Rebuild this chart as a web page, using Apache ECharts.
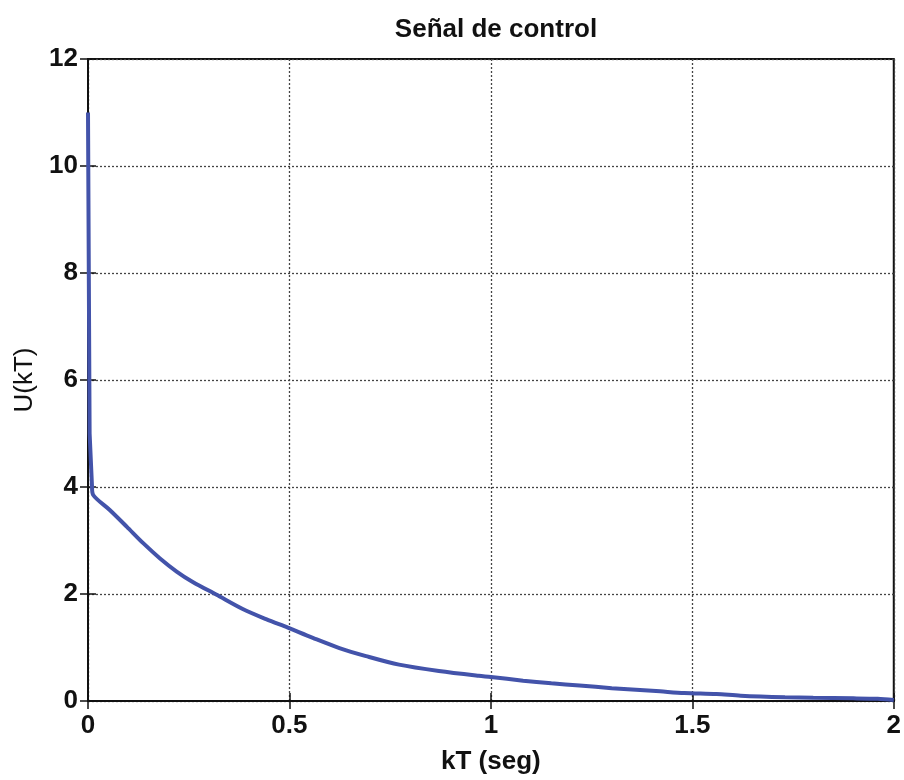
<!DOCTYPE html>
<html>
<head>
<meta charset="utf-8">
<script src="https://cdn.jsdelivr.net/npm/echarts@6/dist/echarts.min.js"></script>
<style>html,body{margin:0;padding:0;background:#fff}#c{width:904px;height:780px}</style>
</head>
<body>
<div id="c"></div>
<script>
const titleText = 'Señal de control';
const xName = 'kT (seg)';
const yName = 'U(kT)';
const kT = [0, 0.004, 0.01, 0.013, 0.054, 0.096, 0.137, 0.178, 0.22, 0.261, 0.318, 0.384, 0.442, 0.496, 0.558, 0.624, 0.69, 0.772, 0.871, 0.97, 1.0, 1.08, 1.15, 1.22, 1.30, 1.36, 1.42, 1.48, 1.56, 1.62, 1.73, 1.80, 1.90, 1.96, 2.0];
const U  = [11.0, 5.0, 4.0, 3.85, 3.57, 3.26, 2.95, 2.67, 2.42, 2.22, 1.99, 1.72, 1.53, 1.37, 1.18, 0.99, 0.84, 0.68, 0.56, 0.47, 0.45, 0.38, 0.33, 0.29, 0.24, 0.21, 0.18, 0.15, 0.13, 0.10, 0.07, 0.06, 0.05, 0.04, 0.02];
const xTicks = [0, 0.5, 1, 1.5, 2];
const yTicks = [0, 2, 4, 6, 8, 10, 12];

const font = 'Liberation Sans, Arial, sans-serif';
const chart = echarts.init(document.getElementById('c'));
const pts = kT.map((t, i) => [t, U[i]]);
const spikeEnd = 3; // initial jump is drawn straight, the decay smoothly
const gridLine = {show: true, lineStyle: {color: '#444', width: 1.3, type: [2, 2]}};
const tick = {show: true, inside: true, length: 8, lineStyle: {color: '#111', width: 1.5}};
const lineStyle = {color: '#4353aa', width: 4};
chart.setOption({
  animation: false,
  backgroundColor: '#fff',
  title: {text: titleText, left: 491, top: 12, textAlign: 'center',
    textStyle: {fontFamily: font, fontSize: 26, fontWeight: 'bold', color: '#111'}},
  grid: {left: 88, right: 9, top: 59, bottom: 79, show: true, borderColor: '#111', borderWidth: 2},
  xAxis: [{
    type: 'value', min: xTicks[0], max: xTicks[xTicks.length - 1], interval: 0.5,
    name: xName, nameLocation: 'middle', nameGap: 48,
    nameTextStyle: {fontFamily: font, fontSize: 26, fontWeight: 'bold', color: '#111'},
    axisLine: {show: true, lineStyle: {color: '#111', width: 2}},
    axisTick: tick,
    axisLabel: {fontFamily: font, fontSize: 26, fontWeight: 'bold', color: '#111', margin: 12},
    splitLine: gridLine
  }, {
    type: 'value', position: 'top', min: 0, max: 2, interval: 0.5,
    axisLine: {show: true, lineStyle: {color: '#111', width: 2}},
    axisTick: tick, axisLabel: {show: false}, splitLine: {show: false}
  }],
  yAxis: [{
    type: 'value', min: yTicks[0], max: yTicks[yTicks.length - 1], interval: 2,
    name: yName, nameLocation: 'middle', nameGap: 44,
    nameTextStyle: {fontFamily: font, fontSize: 26, color: '#111'},
    axisLine: {show: true, lineStyle: {color: '#111', width: 2}},
    axisTick: tick,
    axisLabel: {fontFamily: font, fontSize: 26, fontWeight: 'bold', color: '#111', margin: 10},
    splitLine: gridLine
  }, {
    type: 'value', position: 'right', min: 0, max: 12, interval: 2,
    axisLine: {show: true, lineStyle: {color: '#111', width: 2}},
    axisTick: tick, axisLabel: {show: false}, splitLine: {show: false}
  }],
  series: [{
    type: 'line', xAxisIndex: 0, yAxisIndex: 0,
    data: pts.slice(0, spikeEnd),
    showSymbol: false, smooth: false, lineStyle: lineStyle, z: 5
  }, {
    type: 'line', xAxisIndex: 0, yAxisIndex: 0,
    data: pts.slice(spikeEnd - 1),
    showSymbol: false, smooth: 0.3, lineStyle: lineStyle, z: 5
  }]
});
</script>
</body>
</html>
